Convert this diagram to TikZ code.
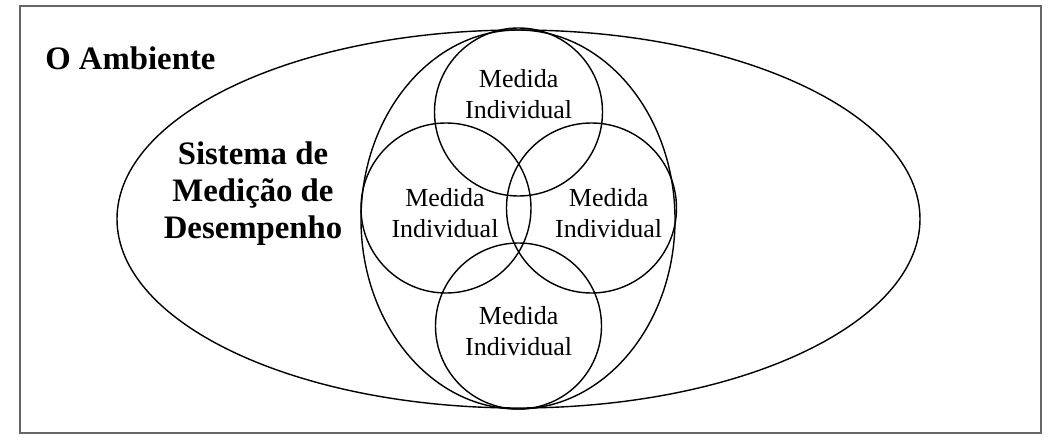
\documentclass[tikz,border=0pt]{standalone}
\usepackage{fontspec}
\setmainfont{Liberation Serif}
\begin{document}
\begin{tikzpicture}[x=0.025cm, y=-0.025cm,
    contorno/.style={line width=1pt},
    medida/.style={align=center, inner sep=0pt, font=\fontsize{18.5}{21.5}\selectfont},
    titulo/.style={align=center, inner sep=0pt, font=\fontsize{23.3}{26.3}\selectfont\bfseries}]
  \useasboundingbox (0,0) rectangle (1055,446);
  \draw[black!60, line width=1.4pt] (20,6) rectangle (1041,433);

  \draw[contorno] (518.5,219) ellipse (401.5 and 189);
  \draw[contorno] (518,219.5) ellipse (157 and 189.5);
  \draw[contorno] (518.5,112) circle (84);
  \draw[contorno] (446,208) circle (85);
  \draw[contorno] (591.5,208) circle (85);
  \draw[contorno] (518.5,326) circle (83);

  \node[titulo, anchor=base west] (ambiente) at (45,70) {O Ambiente};
  \node[titulo] (sistema) at (253,194) {Sistema de\\Medição de\\Desempenho};

  \node[medida] (m1) at (518.7,94) {Medida\\Individual};
  \node[medida] (m2) at (445,213) {Medida\\Individual};
  \node[medida] (m3) at (608.7,213) {Medida\\Individual};
  \node[medida] (m4) at (518.7,331) {Medida\\Individual};
\end{tikzpicture}
\end{document}
